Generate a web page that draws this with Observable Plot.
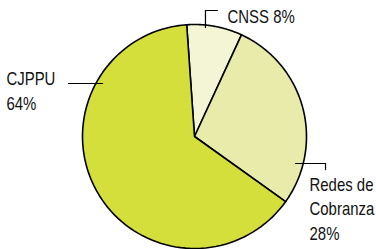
<!DOCTYPE html>
<html><head><meta charset="utf-8">
<script src="https://cdn.jsdelivr.net/npm/d3@7"></script>
<script src="https://cdn.jsdelivr.net/npm/@observablehq/plot@0.6"></script>
<style>html,body{margin:0;padding:0;background:#fff}</style>
</head><body><div id="chart"></div>
<script>
// Data
const categories = ["CNSS", "Redes de Cobranza", "CJPPU"];
const values = [8, 28, 64];
const labelTexts = ["CNSS 8%", "Redes de\nCobranza\n28%", "CJPPU\n64%"];
const colors = ["#f3f5d5", "#e8ebaa", "#d4df3c"];

// Layout (units of the pie radius)
const W = 376, H = 249, R = 112, cx = 194, cy = 136;
const startAngle = -4 * Math.PI / 180;
const labelPos = [
  {x: 0.295, y: 1.085},
  {x: 1.027, y: -0.634},
  {x: -1.679, y: 0.42}
];
const leaderPaths = [
  [[0.098, 0.973], [0.098, 1.125], [0.205, 1.125]],
  [[0.902, -0.241], [1.170, -0.241], [1.170, -0.295]],
  [[-0.821, 0.473], [-1.125, 0.473]]
];
const condense = 0.83;

const pie = d3.pie().sort(null).value(d => d.value)
  .startAngle(startAngle).endAngle(startAngle + 2 * Math.PI);
const arcs = pie(categories.map((c, i) => ({name: c, value: values[i]})));
const slicePts = [];
for (const a of arcs) {
  slicePts.push({name: a.data.name, x: 0, y: 0});
  const n = 90;
  for (let k = 0; k <= n; k++) {
    const t = a.startAngle + (a.endAngle - a.startAngle) * k / n;
    slicePts.push({name: a.data.name, x: Math.sin(t), y: Math.cos(t)});
  }
}
const leaders = [];
leaderPaths.forEach((p, i) => p.forEach(([x, y]) => leaders.push({name: categories[i], x, y})));
const labels = categories.map((c, i) => ({name: c, text: labelTexts[i], ...labelPos[i]}));

const chart = Plot.plot({
  width: W, height: H, margin: 0,
  x: {domain: [-cx / R, (W - cx) / R], axis: null},
  y: {domain: [-(H - cy) / R, cy / R], axis: null},
  color: {domain: categories, range: colors},
  style: {fontFamily: "'Liberation Sans', Arial, Helvetica, sans-serif", background: "#fff"},
  marks: [
    Plot.line(slicePts, {x: "x", y: "y", z: "name", fill: "name", stroke: "#000", strokeWidth: 1.6, curve: "linear-closed", strokeLinejoin: "round"}),
    Plot.line(leaders, {x: "x", y: "y", z: "name", stroke: "#000", strokeWidth: 1.2}),
    Plot.text(labels, {x: "x", y: "y", text: "text", textAnchor: "start", lineAnchor: "middle", lineHeight: 1.36, fontSize: 18, fill: "#111"})
  ]
});
// condense label glyphs horizontally (reference uses a condensed face)
chart.querySelectorAll("text").forEach(t => {
  const tr = t.getAttribute("transform");
  if (tr) {
    t.setAttribute("transform", tr + ` scale(${condense},1)`);
  } else {
    const x = +t.getAttribute("x") || 0, y = +t.getAttribute("y") || 0;
    t.removeAttribute("x"); t.removeAttribute("y");
    t.setAttribute("transform", `translate(${x},${y}) scale(${condense},1)`);
  }
});
document.getElementById("chart").appendChild(chart);
</script>
</body></html>
